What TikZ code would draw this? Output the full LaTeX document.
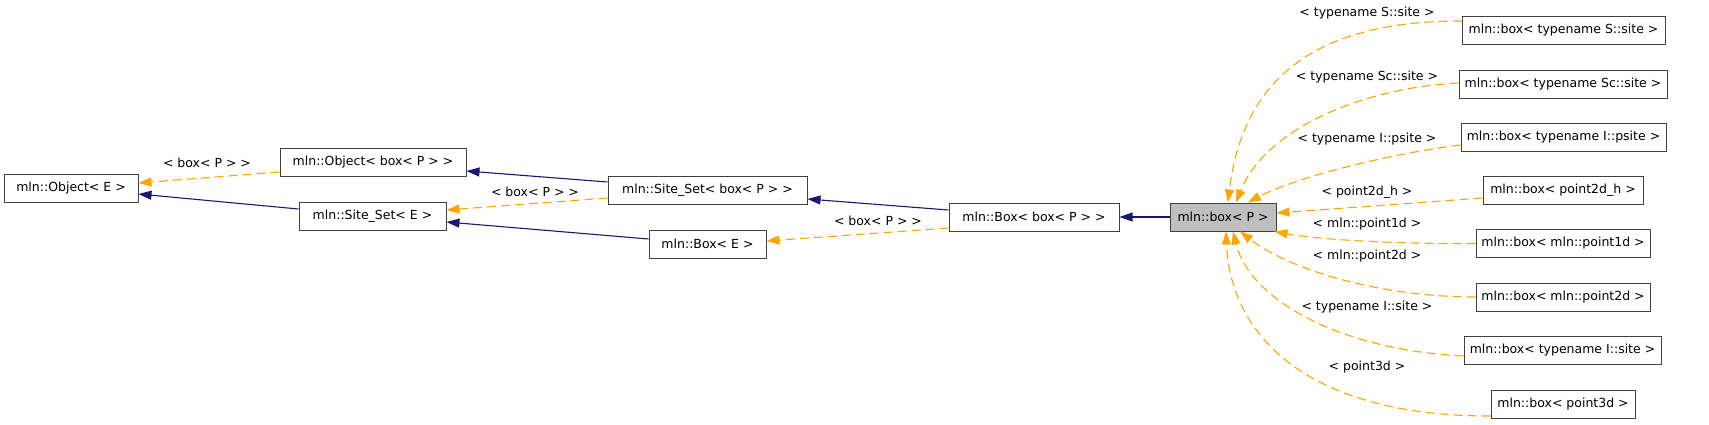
\documentclass[tikz,border=0pt]{standalone}
\usepackage{fontspec}
\setmainfont{DejaVu Sans}
\usetikzlibrary{arrows.meta,calc}
\definecolor{navy}{HTML}{191970}
\definecolor{dorange}{HTML}{FFA500}
\definecolor{boxline}{HTML}{404040}
\definecolor{greyfill}{HTML}{BFBFBF}
\begin{document}
\begin{tikzpicture}[x=1pt,y=-1pt,
  every node/.style={font=\fontsize{12.5}{14}\selectfont},
  cls/.style={draw=boxline,line width=1pt,fill=white,inner sep=0pt,minimum height=28pt,anchor=center},
  curcls/.style={cls,fill=greyfill},
  lbl/.style={inner sep=0pt,anchor=center},
  inherit/.style={draw=navy,line width=1.1pt,-{Triangle[length=13pt,width=9pt]}},
  templ/.style={draw=dorange,line width=1.1pt,dash pattern=on 9pt off 5pt,-{Triangle[length=13pt,width=9pt]}}
]
\path[use as bounding box,fill=white] (0,0) rectangle (1709,424);

% nodes
\node[cls,minimum width=134pt] (objE) at (71,188.5) {mln::Object< E >};
\node[cls,minimum width=186pt] (objB) at (373,162) {mln::Object< box< P > >};
\node[cls,minimum width=147pt] (ssE) at (372.5,216) {mln::Site\_Set< E >};
\node[cls,minimum width=199pt] (ssB) at (707.5,190.5) {mln::Site\_Set< box< P > >};
\node[cls,minimum width=117pt] (boxE) at (707.5,244) {mln::Box< E >};
\node[cls,minimum width=170pt] (boxB) at (1034,217) {mln::Box< box< P > >};
\node[curcls,minimum width=106pt] (boxP) at (1223,217) {mln::box< P >};

\node[cls,minimum width=203pt] (sS) at (1563.5,30) {mln::box< typename S::site >};
\node[cls,minimum width=208pt] (sSc) at (1563,84) {mln::box< typename Sc::site >};
\node[cls,minimum width=205pt] (sIp) at (1563.5,137.5) {mln::box< typename I::psite >};
\node[cls,minimum width=160pt] (sp2h) at (1563,190.5) {mln::box< point2d\_h >};
\node[cls,minimum width=174pt] (sp1) at (1563,243.5) {mln::box< mln::point1d >};
\node[cls,minimum width=174pt] (sp2) at (1563,297) {mln::box< mln::point2d >};
\node[cls,minimum width=197pt] (sIs) at (1562.5,350.5) {mln::box< typename I::site >};
\node[cls,minimum width=144pt] (sp3) at (1563,404) {mln::box< point3d >};

% left part edges
\draw[templ] ($(objB.west)+(0,10)$) -- ($(objE.east)+(0,-5.5)$);
\draw[inherit] ($(ssE.west)+(0,-7)$) -- ($(objE.east)+(0,5.5)$);
\draw[inherit] ($(ssB.west)+(0,-8.5)$) -- ($(objB.east)+(0,9)$);
\draw[templ] ($(ssB.west)+(0,7.5)$) -- ($(ssE.east)+(0,-6)$);
\draw[inherit] ($(boxE.west)+(0,-5)$) -- ($(ssE.east)+(0,6)$);
\draw[inherit] ($(boxB.west)+(0,-7)$) -- ($(ssB.east)+(0,8.5)$);
\draw[templ] ($(boxB.west)+(0,11)$) -- ($(boxE.east)+(0,-3)$);
\draw[inherit] (boxP.west) -- (boxB.east);

% right part edges
\draw[templ] ($(sS.west)+(0,-9)$) .. controls (1340,21) and (1245,60) .. ($(boxP.north)+(5,0)$);
\draw[templ] ($(sSc.west)+(0,-1)$) .. controls (1360,88) and (1265,130) .. ($(boxP.north)+(13,0)$);
\draw[templ] ($(sIp.west)+(0,7.5)$) .. controls (1380,155) and (1290,180) .. ($(boxP.north)+(25,0)$);
\draw[templ] ($(sp2h.west)+(0,7.5)$) -- ($(boxP.east)+(0,-4)$);
\draw[templ] (sp1.west) .. controls (1400,244) and (1320,240) .. ($(boxP.south east)+(-2,0)$);
\draw[templ] (sp2.west) .. controls (1380,297) and (1290,270) .. ($(boxP.south)+(17,0)$);
\draw[templ] ($(sIs.west)+(0,5.5)$) .. controls (1340,350) and (1250,300) .. ($(boxP.south)+(10,0)$);
\draw[templ] ($(sp3.west)+(0,12)$) .. controls (1300,416) and (1230,330) .. ($(boxP.south)+(3,0)$);

% labels
\node[lbl] (l1) at (207,163) {< box< P > >};
\node[lbl] (l2) at (535,192) {< box< P > >};
\node[lbl] (l3) at (878,221) {< box< P > >};
\node[lbl] (lS) at (1367,13) {< typename S::site >};
\node[lbl] (lSc) at (1367,77) {< typename Sc::site >};
\node[lbl] (lIp) at (1367,139) {< typename I::psite >};
\node[lbl] (lp2h) at (1367,192) {< point2d\_h >};
\node[lbl] (lp1) at (1367,224) {< mln::point1d >};
\node[lbl] (lp2) at (1367,256) {< mln::point2d >};
\node[lbl] (lIs) at (1367,307) {< typename I::site >};
\node[lbl] (lp3) at (1367,367) {< point3d >};
\end{tikzpicture}
\end{document}
